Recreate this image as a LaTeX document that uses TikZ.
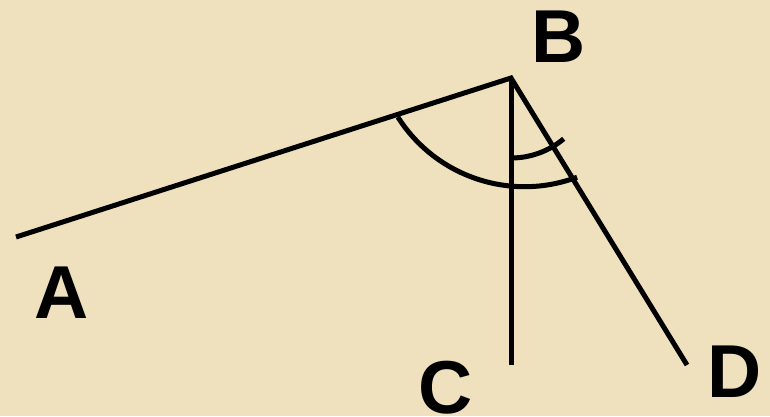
\documentclass[tikz,border=0pt]{standalone}
\usepackage{fontspec}
\setmainfont{Liberation Sans}
\definecolor{parch}{RGB}{239,225,190}
\begin{document}
\begin{tikzpicture}[x=1pt,y=-1pt,
  seg/.style={line width=5pt,black},
  lbl/.style={anchor=base,inner sep=0pt,font=\fontsize{75}{75}\selectfont\bfseries}]
\fill[parch] (0,0) rectangle (770,416);
\useasboundingbox (0,0) rectangle (770,416);
\coordinate (A) at (16,237);
\coordinate (B) at (511,78);
\coordinate (C) at (511,365);
\coordinate (D) at (687,365);
\draw[seg,line join=miter] (A) -- (B) -- (D);
\draw[seg] (B) -- (C);
% big arc
\coordinate (bc) at (524.5,36.7);
\draw[seg] (bc) ++(147.6:150) arc[start angle=147.6,end angle=69.5,radius=150];
% small arc
\draw[seg] (B) ++(90:80) arc[start angle=90,end angle=50,radius=82];
\node[lbl] (la) at (62,318) {A};
\node[lbl] (lb) at (559,62) {B};
\node[lbl] (lc) at (446,413) {C};
\node[lbl] (ld) at (735,397) {D};
\end{tikzpicture}
\end{document}
